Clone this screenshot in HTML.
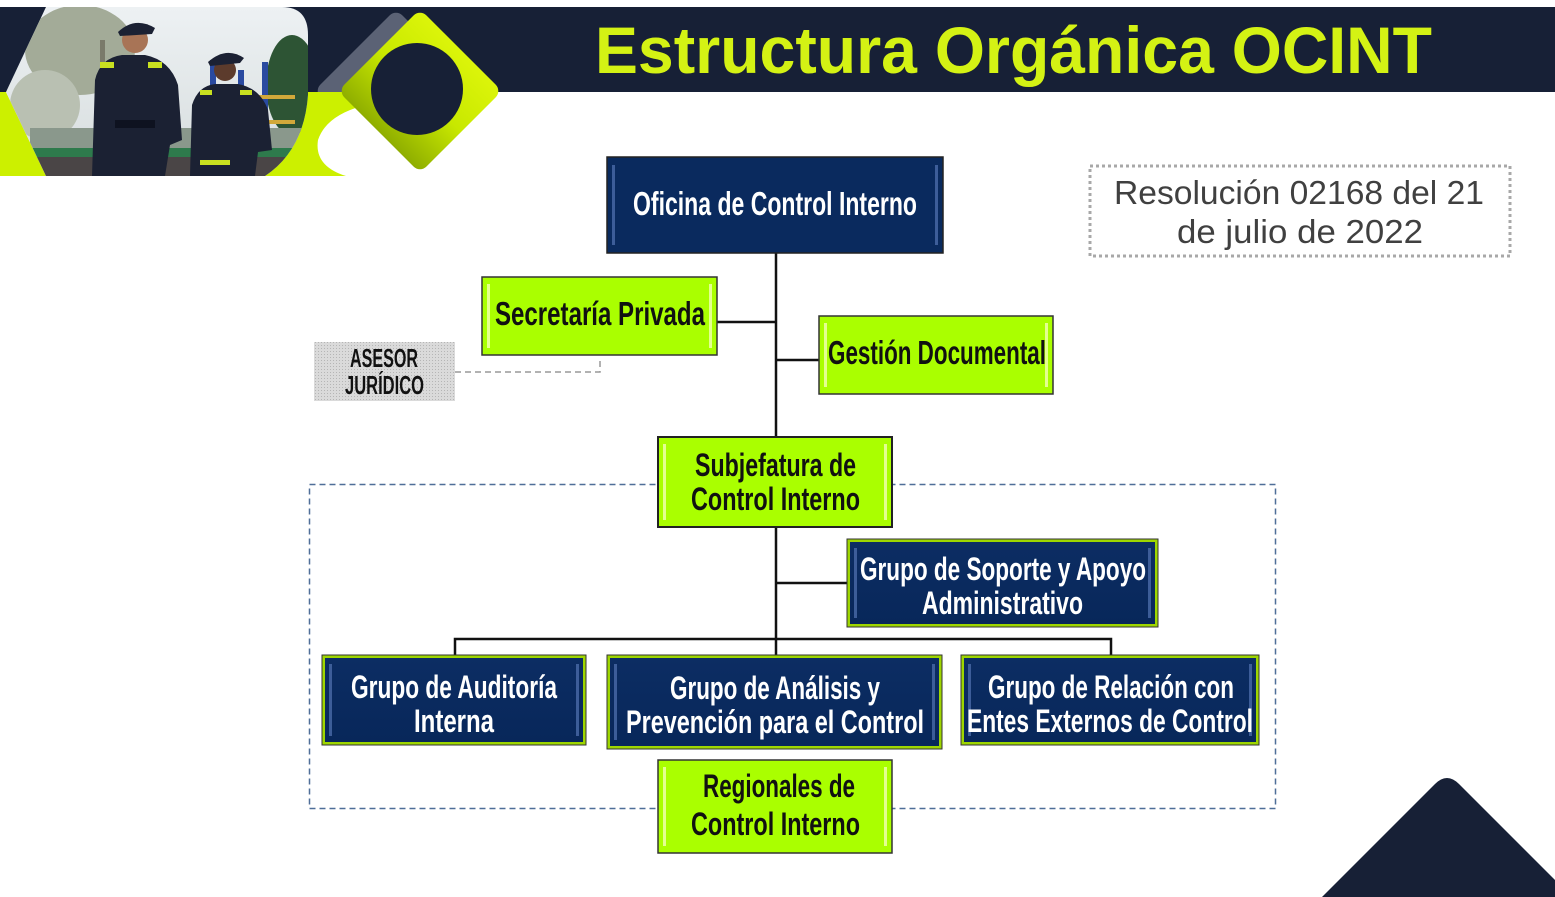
<!DOCTYPE html>
<html><head><meta charset="utf-8"><style>
html,body{margin:0;padding:0;background:#fff;}
svg{display:block;}
.b{font-family:"Liberation Sans Narrow","Liberation Sans",sans-serif;font-weight:bold;}
</style></head><body>
<svg width="1555" height="897" viewBox="0 0 1555 897" xmlns="http://www.w3.org/2000/svg">
<defs>
<linearGradient id="dg" x1="0" y1="0" x2="0" y2="1">
<stop offset="0" stop-color="#dcf50a"/><stop offset="0.5" stop-color="#c8e800"/><stop offset="1" stop-color="#8fae00"/></linearGradient>
<linearGradient id="sky" x1="0" y1="0" x2="0" y2="1">
<stop offset="0" stop-color="#eef2f4"/><stop offset="1" stop-color="#d6dcdd"/></linearGradient>
<clipPath id="pc"><path d="M46,7 L282,7 Q308,7 308,35 L308,95 Q304,150 265,176 L46,176 L6,92 Z"/></clipPath>
<clipPath id="band"><rect x="0" y="0" width="1555" height="92"/></clipPath>
<pattern id="dots" width="3" height="3" patternUnits="userSpaceOnUse"><rect width="3" height="3" fill="#dadada"/><rect width="1" height="1" fill="#b5b5b5"/></pattern>
<linearGradient id="nv" x1="0" y1="0" x2="0" y2="1"><stop offset="0" stop-color="#0c2d63"/><stop offset="1" stop-color="#08275a"/></linearGradient>
</defs>

<!-- header band -->
<rect x="0" y="7" width="1555" height="85" fill="#172036"/>
<!-- left lime triangle -->
<polygon points="0,92 6,92 46,176 0,176" fill="#ccf000"/>
<!-- lime area under band near diamond -->
<rect x="250" y="92" width="180" height="84" fill="#ccf000"/>
<path d="M362,106 Q326,116 318,140 Q314,166 346,176 L440,176 L440,106 Z" fill="#fff"/>
<rect x="430" y="92" width="120" height="90" fill="#fff"/>

<!-- photo -->
<g clip-path="url(#pc)">
<rect x="0" y="0" width="320" height="180" fill="url(#sky)"/>
<ellipse cx="80" cy="50" rx="55" ry="45" fill="#a3ab98"/>
<ellipse cx="45" cy="105" rx="35" ry="35" fill="#b9c0b2"/>
<rect x="100" y="40" width="5" height="120" fill="#7a7a6a"/>
<ellipse cx="292" cy="85" rx="26" ry="50" fill="#2d5434"/>
<rect x="210" y="60" width="6" height="110" fill="#2a4aa0"/>
<rect x="238" y="70" width="6" height="100" fill="#2a4aa0"/>
<rect x="262" y="62" width="6" height="110" fill="#2a4aa0"/>
<rect x="225" y="95" width="70" height="4" fill="#d2a83a"/>
<rect x="225" y="120" width="70" height="4" fill="#d2a83a"/>
<rect x="30" y="128" width="280" height="20" fill="#8a988c"/>
<rect x="30" y="148" width="280" height="9" fill="#2e7a4c"/>
<rect x="30" y="157" width="280" height="22" fill="#4a4546"/>
<!-- officer 1 -->
<path d="M92,176 L95,80 Q100,58 122,55 L145,55 Q170,60 178,85 L182,140 L170,145 L165,176 Z" fill="#1b2133"/>
<circle cx="135" cy="40" r="13" fill="#a87456"/>
<path d="M118,32 Q135,16 155,28 L152,34 L120,36 Z" fill="#1b2133"/>
<rect x="100" y="62" width="14" height="6" fill="#c8e020"/>
<rect x="148" y="62" width="14" height="6" fill="#c8e020"/>
<rect x="115" y="120" width="40" height="8" fill="#0e1220"/>
<!-- officer 2 -->
<path d="M190,176 L192,105 Q198,86 215,84 L238,84 Q260,88 268,110 L272,150 L258,152 L255,176 Z" fill="#1b2133"/>
<circle cx="225" cy="70" r="11" fill="#5c3b2c"/>
<path d="M208,62 Q226,46 244,58 L240,63 L210,66 Z" fill="#1b2133"/>
<rect x="200" y="90" width="12" height="5" fill="#c8e020"/>
<rect x="240" y="90" width="12" height="5" fill="#c8e020"/>
<rect x="200" y="160" width="30" height="5" fill="#c8e020"/>
</g>

<!-- gray diamond (behind) -->
<g clip-path="url(#band)">
<rect x="338" y="33" width="116" height="116" rx="9" fill="#5b6275" transform="rotate(45 396 91)"/>
</g>
<!-- lime diamond -->
<rect x="362" y="33" width="116" height="116" rx="9" fill="url(#dg)" transform="rotate(45 420 91)"/>
<circle cx="417" cy="89" r="46" fill="#172036"/>

<!-- title -->
<text x="595" y="73" font-family="Liberation Sans, sans-serif" font-weight="bold" font-size="66" fill="#d4f214" textLength="837" lengthAdjust="spacingAndGlyphs">Estructura Orgánica OCINT</text>

<!-- resolution box -->
<rect x="1090" y="166" width="420" height="90" fill="none" stroke="#a8a8a8" stroke-width="3" stroke-dasharray="3 3"/>
<text x="1114" y="204" font-family="Liberation Sans, sans-serif" font-size="33" fill="#404040" textLength="370" lengthAdjust="spacingAndGlyphs">Resolución 02168 del 21</text>
<text x="1177" y="243" font-family="Liberation Sans, sans-serif" font-size="33" fill="#404040" textLength="246" lengthAdjust="spacingAndGlyphs">de julio de 2022</text>

<!-- dashed group rect -->
<rect x="309.5" y="484.5" width="966" height="324" fill="none" stroke="#4f6e98" stroke-width="1.5" stroke-dasharray="6 4"/>

<!-- connectors -->
<g stroke="#111" stroke-width="2.5" fill="none">
<line x1="776" y1="253" x2="776" y2="437"/>
<line x1="717" y1="322" x2="776" y2="322"/>
<line x1="776" y1="360" x2="819" y2="360"/>
<line x1="776" y1="527" x2="776" y2="655"/>
<line x1="776" y1="583" x2="847" y2="583"/>
<polyline points="455,655 455,639 1111,639 1111,655"/>
</g>
<polyline points="455,372 600,372 600,360" fill="none" stroke="#999" stroke-width="1.5" stroke-dasharray="6 4"/>

<!-- asesor -->
<rect x="314" y="342" width="141" height="59" fill="url(#dots)"/>
<text class="b" x="350" y="367" font-size="26" fill="#111" textLength="68" lengthAdjust="spacingAndGlyphs">ASESOR</text>
<text class="b" x="345" y="394" font-size="26" fill="#111" textLength="79" lengthAdjust="spacingAndGlyphs">JURÍDICO</text>

<!-- navy boxes -->
<g>
<rect x="607" y="157" width="336" height="96" fill="#0a2a5e" stroke="#222" stroke-width="1.5"/>
<rect x="612" y="165" width="3" height="80" fill="#4a6aa8" opacity="0.8"/>
<rect x="935" y="165" width="3" height="80" fill="#4a6aa8" opacity="0.8"/>
<text class="b" x="633" y="215" font-size="33" fill="#fff" textLength="284" lengthAdjust="spacingAndGlyphs">Oficina de Control Interno</text>
</g>

<g>
<rect x="847" y="539" width="311" height="88" fill="#9ed600" stroke="#333" stroke-width="1"/>
<rect x="850" y="542" width="305" height="82" fill="url(#nv)"/>
<rect x="854" y="548" width="3" height="70" fill="#4a6aa8" opacity="0.8"/>
<rect x="1148" y="548" width="3" height="70" fill="#4a6aa8" opacity="0.8"/>
<text class="b" x="860" y="580" font-size="32" fill="#fff" textLength="286" lengthAdjust="spacingAndGlyphs">Grupo de Soporte y Apoyo</text>
<text class="b" x="922" y="614" font-size="32" fill="#fff" textLength="161" lengthAdjust="spacingAndGlyphs">Administrativo</text>
</g>

<g>
<rect x="322" y="655" width="264" height="90" fill="#9ed600" stroke="#333" stroke-width="1"/>
<rect x="325" y="658" width="258" height="84" fill="url(#nv)"/>
<rect x="329" y="664" width="3" height="72" fill="#4a6aa8" opacity="0.8"/>
<rect x="576" y="664" width="3" height="72" fill="#4a6aa8" opacity="0.8"/>
<text class="b" x="351" y="698" font-size="32" fill="#fff" textLength="206" lengthAdjust="spacingAndGlyphs">Grupo de Auditoría</text>
<text class="b" x="414" y="732" font-size="32" fill="#fff" textLength="80" lengthAdjust="spacingAndGlyphs">Interna</text>
</g>

<g>
<rect x="607" y="655" width="335" height="94" fill="#9ed600" stroke="#333" stroke-width="1"/>
<rect x="610" y="658" width="329" height="88" fill="url(#nv)"/>
<rect x="614" y="664" width="3" height="76" fill="#4a6aa8" opacity="0.8"/>
<rect x="932" y="664" width="3" height="76" fill="#4a6aa8" opacity="0.8"/>
<text class="b" x="670" y="699" font-size="32" fill="#fff" textLength="210" lengthAdjust="spacingAndGlyphs">Grupo de Análisis y</text>
<text class="b" x="626" y="733" font-size="32" fill="#fff" textLength="298" lengthAdjust="spacingAndGlyphs">Prevención para el Control</text>
</g>

<g>
<rect x="961" y="655" width="298" height="90" fill="#9ed600" stroke="#333" stroke-width="1"/>
<rect x="964" y="658" width="292" height="84" fill="url(#nv)"/>
<rect x="968" y="664" width="3" height="72" fill="#4a6aa8" opacity="0.8"/>
<rect x="1249" y="664" width="3" height="72" fill="#4a6aa8" opacity="0.8"/>
<text class="b" x="988" y="698" font-size="32" fill="#fff" textLength="246" lengthAdjust="spacingAndGlyphs">Grupo de Relación con</text>
<text class="b" x="967" y="732" font-size="32" fill="#fff" textLength="286" lengthAdjust="spacingAndGlyphs">Entes Externos de Control</text>
</g>

<!-- lime boxes -->
<g>
<rect x="482" y="277" width="235" height="78" fill="#aaff00" stroke="#333" stroke-width="1.5"/>
<rect x="487" y="284" width="3" height="64" fill="#e4ff90"/>
<rect x="709" y="284" width="3" height="64" fill="#e4ff90"/>
<text class="b" x="495" y="325" font-size="33" fill="#111" textLength="210" lengthAdjust="spacingAndGlyphs">Secretaría Privada</text>
</g>
<g>
<rect x="819" y="316" width="234" height="78" fill="#aaff00" stroke="#333" stroke-width="1.5"/>
<rect x="824" y="323" width="3" height="64" fill="#e4ff90"/>
<rect x="1045" y="323" width="3" height="64" fill="#e4ff90"/>
<text class="b" x="828" y="364" font-size="33" fill="#111" textLength="218" lengthAdjust="spacingAndGlyphs">Gestión Documental</text>
</g>
<g>
<rect x="658" y="437" width="234" height="90" fill="#aaff00" stroke="#222" stroke-width="2"/>
<rect x="663" y="444" width="3" height="76" fill="#e4ff90"/>
<rect x="884" y="444" width="3" height="76" fill="#e4ff90"/>
<text class="b" x="695" y="476" font-size="32" fill="#111" textLength="161" lengthAdjust="spacingAndGlyphs">Subjefatura de</text>
<text class="b" x="691" y="510" font-size="32" fill="#111" textLength="169" lengthAdjust="spacingAndGlyphs">Control Interno</text>
</g>
<g>
<rect x="658" y="760" width="234" height="93" fill="#aaff00" stroke="#333" stroke-width="1.5"/>
<rect x="663" y="767" width="3" height="79" fill="#e4ff90"/>
<rect x="884" y="767" width="3" height="79" fill="#e4ff90"/>
<text class="b" x="703" y="797" font-size="32" fill="#111" textLength="152" lengthAdjust="spacingAndGlyphs">Regionales de</text>
<text class="b" x="691" y="835" font-size="32" fill="#111" textLength="169" lengthAdjust="spacingAndGlyphs">Control Interno</text>
</g>

<!-- bottom-right triangle -->
<path d="M1322,897 L1435,784 Q1447,772 1459,784 L1555,880 L1555,897 Z" fill="#172036"/>
</svg>
</body></html>
